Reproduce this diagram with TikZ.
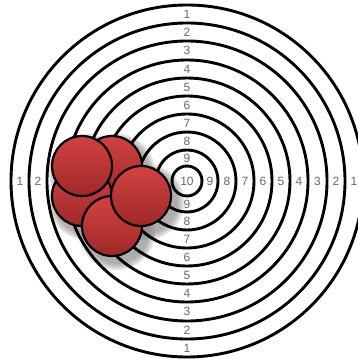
\documentclass[tikz,border=0pt]{standalone}
\usepackage{fontspec}
\setsansfont{Liberation Sans}
\usepackage{xcolor}
\usepackage{tikz}
\usetikzlibrary{positioning}

\definecolor{ballred}{RGB}{210,66,66}
\definecolor{balldark}{RGB}{160,40,40}
\definecolor{labelgray}{RGB}{105,105,105}

\begin{document}
\begin{tikzpicture}[
    x=1pt, y=1pt,
    ring/.style={draw=black, line width=2.9pt},
    lbl/.style={text=labelgray, font=\sffamily\fontsize{12}{14}\selectfont, inner sep=0pt},
    ball/.style={circle, minimum size=60pt, inner sep=0pt, draw=black, line width=2.2pt, top color=ballred, bottom color=balldark},
    shadowdisc/.style={fill=black, opacity=0.22}
]
\useasboundingbox (-187,-180) rectangle (171,181);
\fill[white] (-187,-180) rectangle (171,181);
\coordinate (centre) at (0,0);

% target rings
\foreach \r in {176,158,140,121,103,85,67,49,31,15}
    \draw[ring] (centre) circle (\r);

% ring numbers
\foreach \n/\d in {1/167,2/149,3/130.5,4/112,5/94,6/76,7/58,8/40,9/23} {
    \node[lbl] (top\n) at (0,\d) {\n};
    \node[lbl] (bot\n) at (0,-\d) {\n};
    \node[lbl] (right\n) at (\d,0) {\n};
}
\node[lbl] (left1) at (-167,0) {1};
\node[lbl] (left2) at (-149,0) {2};
\node[lbl] (bull) at (centre) {10};

% shadows of the shots
\begin{scope}[transparency group, opacity=0.5, xshift=5pt, yshift=-6pt]
    \foreach \p in {(-75,15),(-105,-15),(-75,-45),(-105,15),(-46,-15)} {
        \fill[shadowdisc] \p circle (38);
        \fill[shadowdisc] \p circle (36);
        \fill[shadowdisc] \p circle (34);
        \fill[shadowdisc] \p circle (32);
    }
\end{scope}

% shots
\node[ball] (shotb) at (-75,15) {};
\node[ball] (shotc) at (-105,-15) {};
\node[ball] (shote) at (-75,-45) {};
\node[ball] (shota) at (-105,15) {};
\node[ball] (shotd) at (-46,-15) {};
\end{tikzpicture}
\end{document}
